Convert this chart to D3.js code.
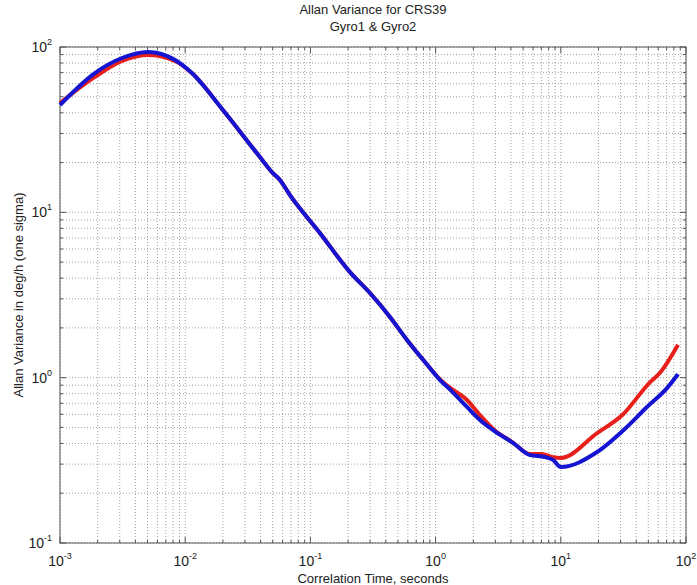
<!DOCTYPE html>
<html>
<head>
<meta charset="utf-8">
<script src="https://cdn.jsdelivr.net/npm/d3@7"></script>
<style>
  body { margin: 0; background: #fff; }
  text { font-family: "Liberation Sans", Arial, sans-serif; fill: #222; }
</style>
</head>
<body>
<div id="chart"></div>
<script>
// data
var gyro1T = [0.001, 0.0019, 0.00313, 0.00505, 0.00829, 0.0113, 0.02, 0.0395, 0.0493, 0.0571, 0.0687, 0.119, 0.207, 0.299, 0.432, 0.591, 0.854, 1.08, 1.3, 1.78, 2.26, 2.88, 4.15, 5.68, 7.0, 8.66, 10, 19.5, 31, 51.7, 62, 86.3];
var gyro1V = [45.8, 65.9, 82.3, 89.5, 82.3, 69.6, 41.6, 21.6, 17.5, 15.7, 12.7, 7.5, 4.35, 3.25, 2.33, 1.69, 1.2, 0.98, 0.87, 0.733, 0.594, 0.49, 0.405, 0.345, 0.345, 0.33, 0.327, 0.462, 0.594, 0.94, 1.07, 1.58];
var gyro2T = [0.001, 0.0019, 0.00313, 0.00505, 0.00829, 0.0113, 0.02, 0.0395, 0.0493, 0.0571, 0.0687, 0.119, 0.207, 0.299, 0.432, 0.591, 0.854, 1.08, 1.3, 1.78, 2.26, 2.88, 4.15, 5.68, 7.48, 8.66, 10, 19.5, 33.8, 48.8, 70.5, 86.3];
var gyro2V = [44.6, 69.6, 85.8, 93.3, 83.4, 69.6, 41.6, 21.6, 17.5, 15.7, 12.7, 7.5, 4.35, 3.25, 2.33, 1.69, 1.2, 0.97, 0.85, 0.665, 0.555, 0.482, 0.403, 0.34, 0.331, 0.318, 0.288, 0.355, 0.504, 0.665, 0.865, 1.05];
var xDecades = [-3, -2, -1, 0, 1, 2];
var yDecades = [-1, 0, 1, 2];

var W = 697, H = 585;
var m = {left: 60, right: 11, top: 47, bottom: 42};

var svg = d3.select("#chart").append("svg").attr("width", W).attr("height", H);

var x = d3.scaleLog().domain([1e-3, 1e2]).range([m.left, W - m.right]);
var y = d3.scaleLog().domain([1e-1, 1e2]).range([H - m.bottom, m.top]);

var x0 = x.range()[0], x1 = x.range()[1], y0 = y.range()[0], y1 = y.range()[1];

// all grid values (decades and minors)
function logVals(decs) {
  var out = [];
  decs.forEach(function(d, i) {
    if (i == decs.length - 1) { out.push({v: Math.pow(10, d), major: true}); return; }
    for (var k = 1; k < 10; k++) out.push({v: k * Math.pow(10, d), major: k == 1});
  });
  return out;
}
var xv = logVals(xDecades), yv = logVals(yDecades);

var grid = svg.append("g");
xv.forEach(function(t) {
  grid.append("line").attr("x1", x(t.v)).attr("x2", x(t.v)).attr("y1", y1).attr("y2", y0)
    .attr("stroke", "#8c8c8c").attr("stroke-width", 0.8).attr("stroke-dasharray", "1,2");
});
yv.forEach(function(t) {
  grid.append("line").attr("x1", x0).attr("x2", x1).attr("y1", y(t.v)).attr("y2", y(t.v))
    .attr("stroke", "#8c8c8c").attr("stroke-width", 0.8).attr("stroke-dasharray", "1,2");
});

// ticks on all four sides
var ticks = svg.append("g").attr("stroke", "#555").attr("stroke-width", 1);
xv.forEach(function(t) {
  var len = t.major ? 6 : 3;
  ticks.append("line").attr("x1", x(t.v)).attr("x2", x(t.v)).attr("y1", y0).attr("y2", y0 - len);
  ticks.append("line").attr("x1", x(t.v)).attr("x2", x(t.v)).attr("y1", y1).attr("y2", y1 + len);
});
yv.forEach(function(t) {
  var len = t.major ? 6 : 3;
  ticks.append("line").attr("x1", x0).attr("x2", x0 + len).attr("y1", y(t.v)).attr("y2", y(t.v));
  ticks.append("line").attr("x1", x1).attr("x2", x1 - len).attr("y1", y(t.v)).attr("y2", y(t.v));
});

svg.append("rect").attr("x", x0).attr("y", y1).attr("width", x1 - x0).attr("height", y0 - y1)
  .attr("fill", "none").attr("stroke", "#555").attr("stroke-width", 1);

// series
var line = d3.line().curve(d3.curveMonotoneX)
  .x(function(d) { return x(d[0]); }).y(function(d) { return y(d[1]); });
svg.append("path").datum(d3.zip(gyro1T, gyro1V)).attr("d", line)
  .attr("fill", "none").attr("stroke", "#e8201c").attr("stroke-width", 4).attr("stroke-linejoin", "round");
svg.append("path").datum(d3.zip(gyro2T, gyro2V)).attr("d", line)
  .attr("fill", "none").attr("stroke", "#1414d2").attr("stroke-width", 4).attr("stroke-linejoin", "round");

// tick labels
xDecades.forEach(function(d) {
  var t = svg.append("text").attr("x", x(Math.pow(10, d))).attr("y", y0 + 23)
    .attr("text-anchor", "middle").style("font-size", "14px");
  t.append("tspan").text("10");
  t.append("tspan").attr("dy", -7).style("font-size", "9px").text(d);
});
yDecades.forEach(function(d) {
  var t = svg.append("text").attr("x", x0 - 8).attr("y", y(Math.pow(10, d)) + 5)
    .attr("text-anchor", "end").style("font-size", "14px");
  t.append("tspan").text("10");
  t.append("tspan").attr("dy", -7).style("font-size", "9px").text(d);
});

// titles
svg.append("text").attr("x", (x0 + x1) / 2).attr("y", 14).attr("text-anchor", "middle")
  .style("font-size", "13px").text("Allan Variance for CRS39");
svg.append("text").attr("x", (x0 + x1) / 2).attr("y", 31).attr("text-anchor", "middle")
  .style("font-size", "13px").text("Gyro1 & Gyro2");
svg.append("text").attr("x", (x0 + x1) / 2).attr("y", 583).attr("text-anchor", "middle")
  .style("font-size", "13px").text("Correlation Time, seconds");
svg.append("text").attr("transform", "translate(23," + ((y0 + y1) / 2) + ") rotate(-90)")
  .attr("text-anchor", "middle").style("font-size", "13px").text("Allan Variance in deg/h (one sigma)");
</script>
</body>
</html>
